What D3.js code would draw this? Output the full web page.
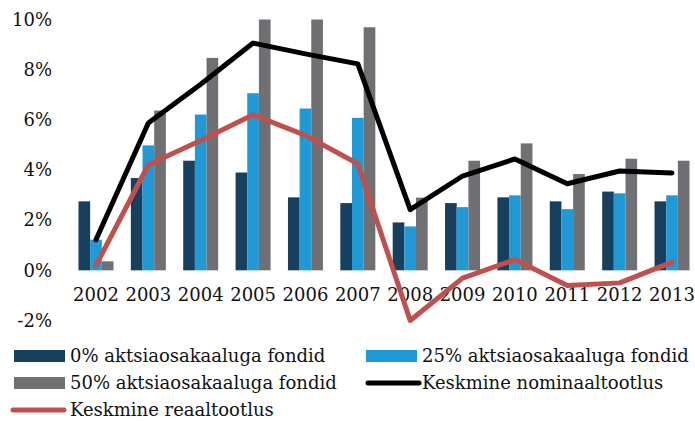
<!DOCTYPE html>
<html>
<head>
<meta charset="utf-8">
<script src="https://cdn.jsdelivr.net/npm/d3@7"></script>
<style>
  html, body { margin: 0; padding: 0; background: #fff; }
  svg { display: block; }
  text { font-family: "DejaVu Serif", "Liberation Serif", serif; fill: #111; }
</style>
</head>
<body>
<svg id="chart" width="695" height="421"></svg>
<script>
const years = ["2002","2003","2004","2005","2006","2007","2008","2009","2010","2011","2012","2013"];
const fund0  = [2.75, 3.68, 4.37, 3.90, 2.91, 2.68, 1.91, 2.68, 2.91, 2.75, 3.14, 2.75];
const fund25 = [1.22, 4.98, 6.21, 7.06, 6.45, 6.08, 1.75, 2.52, 2.99, 2.44, 3.07, 2.99];
const fund50 = [0.36, 6.37, 8.47, 10.0, 10.0, 9.69, 2.90, 4.37, 5.06, 3.84, 4.45, 4.37];
const nominal = [1.22, 5.87, 7.42, 9.06, 8.63, 8.23, 2.42, 3.76, 4.44, 3.45, 3.96, 3.88];
const real    = [0.20, 4.21, 5.18, 6.20, 5.38, 4.25, -2.05, -0.31, 0.43, -0.60, -0.50, 0.33];
const yTicks = [-2, 0, 2, 4, 6, 8, 10];
const barNames = ["0% aktsiaosakaaluga fondid", "25% aktsiaosakaaluga fondid", "50% aktsiaosakaaluga fondid"];
const lineNames = ["Keskmine nominaaltootlus", "Keskmine reaaltootlus"];

const colors = { f0: "#173f5e", f25: "#1f9ad6", f50: "#6f7073", nominal: "#000000", real: "#c0504d" };

const svg = d3.select("#chart");

const x = d3.scaleBand().domain(years).range([69.8, 698.2]).padding(0);
const y = d3.scaleLinear().domain([-2, 10]).range([320.5, 19.5]).clamp(true);
const groupW = 35;
const x1 = d3.scaleBand().domain(["f0","f25","f50"]).range([(x.bandwidth()-groupW)/2, (x.bandwidth()+groupW)/2]).padding(0);

const barSeries = [
  { key: "f0", values: fund0 },
  { key: "f25", values: fund25 },
  { key: "f50", values: fund50 }
];

const gBars = svg.append("g");
barSeries.forEach(s => {
  gBars.selectAll(null).data(s.values).enter().append("rect")
    .attr("x", (d, i) => x(years[i]) + x1(s.key))
    .attr("width", x1.bandwidth())
    .attr("y", d => y(Math.max(0, d)))
    .attr("height", d => Math.abs(y(d) - y(0)))
    .attr("fill", colors[s.key]);
});

// y axis labels
const yAxis = d3.axisLeft(y).tickValues(yTicks).tickFormat(d => d + "%").tickSize(0).tickPadding(0);
const gy = svg.append("g").attr("transform", "translate(52,0)").call(yAxis);
gy.select(".domain").remove();
gy.selectAll("text").attr("font-size", 18).attr("font-family", "DejaVu Serif").attr("fill", "#111");

// x labels
const xAxis = d3.axisBottom(x).tickSize(0).tickPadding(0);
const gx = svg.append("g").attr("transform", "translate(0,288)").call(xAxis);
gx.select(".domain").remove();
gx.selectAll("text").attr("font-size", 18).attr("font-family", "DejaVu Serif").attr("fill", "#111");

const line = d3.line()
  .x((d, i) => x(years[i]) + x.bandwidth()/2)
  .y(d => y(d));

svg.append("path").datum(nominal).attr("d", line)
  .attr("fill", "none").attr("stroke", colors.nominal).attr("stroke-width", 5)
  .attr("stroke-linejoin", "round").attr("stroke-linecap", "round");
svg.append("path").datum(real).attr("d", line)
  .attr("fill", "none").attr("stroke", colors.real).attr("stroke-width", 5)
  .attr("stroke-linejoin", "round").attr("stroke-linecap", "round");

// legend
const legend = svg.append("g");
const items = [
  { type: "rect", color: colors.f0, label: barNames[0], x: 14, y: 356 },
  { type: "rect", color: colors.f25, label: barNames[1], x: 366, y: 356 },
  { type: "rect", color: colors.f50, label: barNames[2], x: 14, y: 383 },
  { type: "line", color: colors.nominal, label: lineNames[0], x: 366, y: 383 },
  { type: "line", color: colors.real, label: lineNames[1], x: 11, y: 410 }
];
items.forEach(it => {
  if (it.type === "rect") {
    legend.append("rect").attr("x", it.x).attr("y", it.y - 6).attr("width", 51).attr("height", 12).attr("fill", it.color);
  } else {
    legend.append("line").attr("x1", it.x + 2).attr("x2", it.x + 53).attr("y1", it.y).attr("y2", it.y)
      .attr("stroke", it.color).attr("stroke-width", 5).attr("stroke-linecap", "round");
  }
  const tx = it.x < 100 ? 70 : 422;
  legend.append("text").attr("x", tx).attr("y", it.y).attr("dy", "0.35em")
    .attr("font-size", 18).text(it.label);
});
</script>
</body>
</html>
